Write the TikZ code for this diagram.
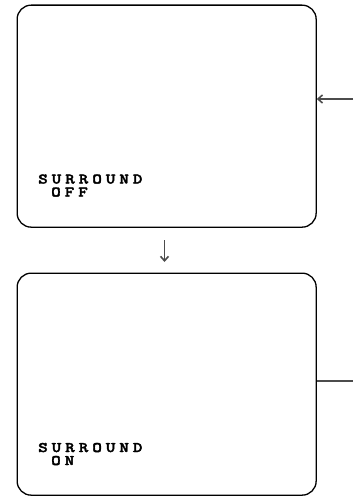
\documentclass[tikz,border=0pt]{standalone}
\usepackage{fontspec}
\usetikzlibrary{arrows.meta}
\newfontfamily\osdfont[LetterSpace=27,FakeBold=2.5,FakeStretch=1.25]{lmmonolt10-bold.otf}
\newcommand{\osdtext}{\osdfont\fontsize{14.6}{13}\selectfont}
\begin{document}
\begin{tikzpicture}[x=1pt,y=-1pt,
  screen/.style={draw=black,line width=1.3pt,rounded corners=14pt,minimum width=299pt,minimum height=222pt,anchor=north west,inner sep=0pt},
  osd/.style={anchor=base west,inner sep=0pt,font=\osdtext,align=left},
  conn/.style={draw=black!70,line width=1.6pt},
  tip/.style={-{Straight Barb[length=4.5pt,width=8pt]}}]
\useasboundingbox (0,0) rectangle (353,497);
\node[screen] (top) at (16.5,4.5) {};
\node[screen] (bot) at (16.5,272.5) {};
\node[osd] (t1) at (38,196.5) {SURROUND\\\hspace*{13pt}OFF};
\node[osd] (t2) at (38,465) {SURROUND\\\hspace*{13pt}ON};
\coordinate (ain) at (353,99);
\coordinate (aout) at (353,381);
\coordinate (da) at (164.5,240);
\coordinate (db) at (164.5,262);
\draw[conn,tip] (ain) -- (top.east |- ain);
\draw[conn] (bot.east |- aout) -- (aout);
\draw[conn,tip] (da) -- (db);
\end{tikzpicture}
\end{document}
